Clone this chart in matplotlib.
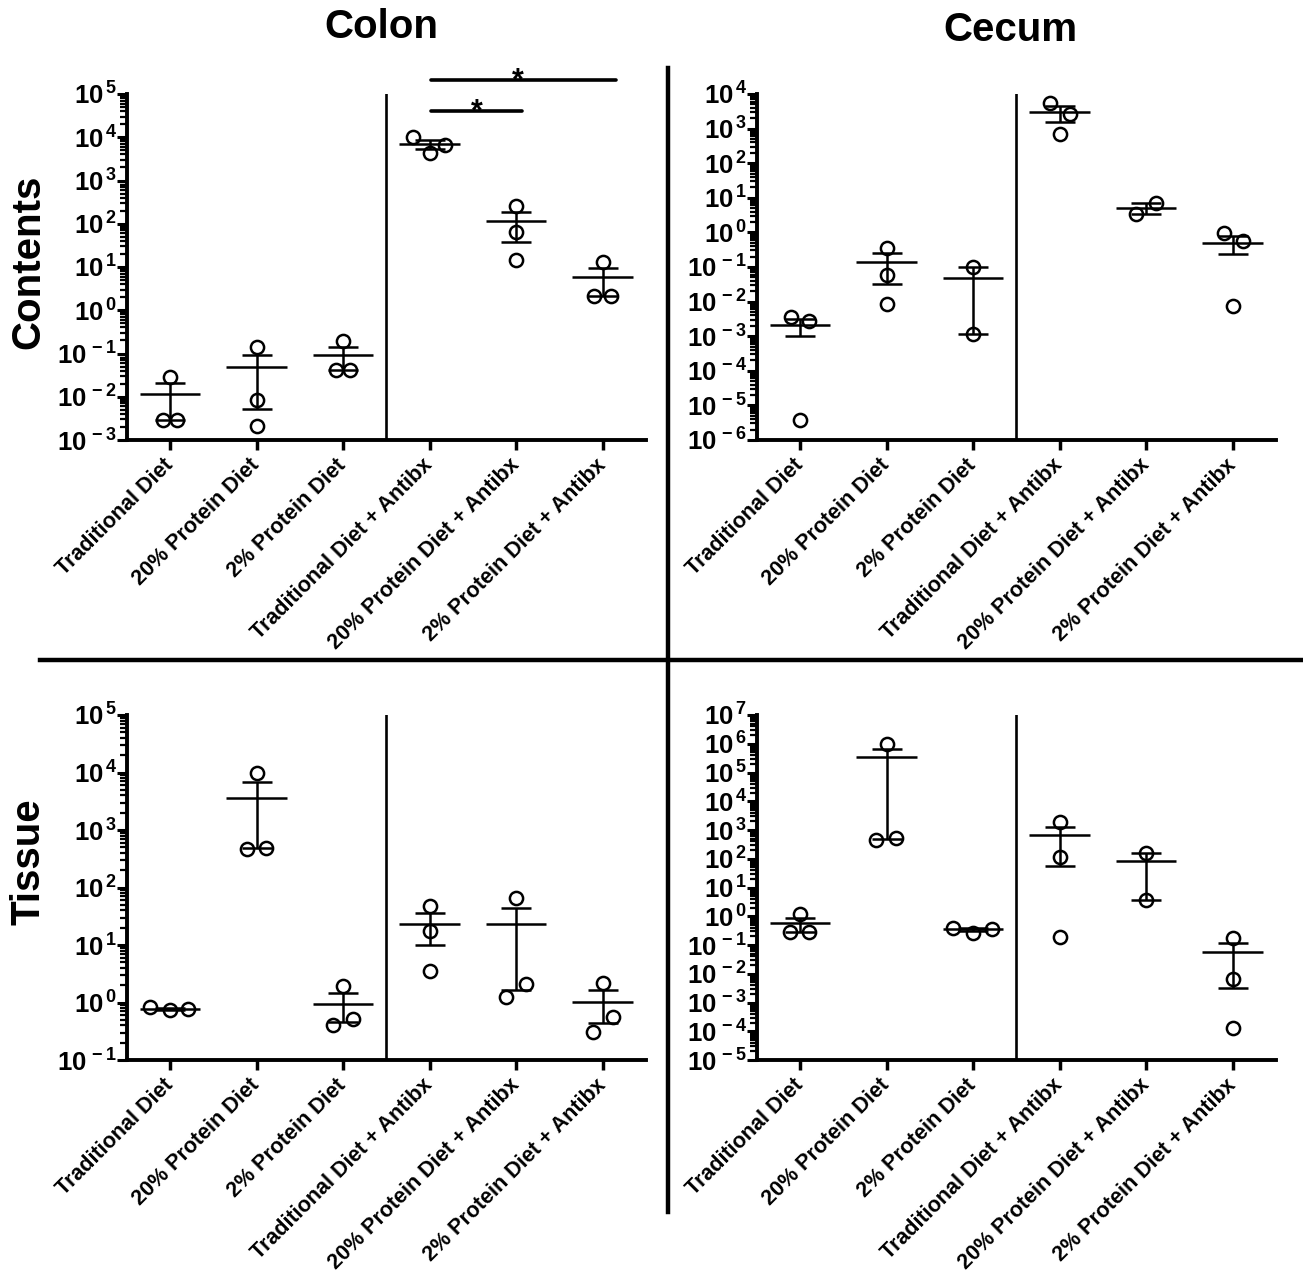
import numpy as np
import matplotlib
matplotlib.use('Agg')
import matplotlib.pyplot as plt
from matplotlib.lines import Line2D
from matplotlib.ticker import FixedLocator, NullFormatter, FixedFormatter

plt.rcParams['font.family'] = ['Liberation Sans', 'DejaVu Sans']
plt.rcParams['font.weight'] = 'bold'
plt.rcParams['mathtext.fontset'] = 'custom'
plt.rcParams['mathtext.rm'] = 'Liberation Sans:bold'
plt.rcParams['mathtext.bf'] = 'Liberation Sans:bold'
plt.rcParams['mathtext.it'] = 'Liberation Sans:bold'
plt.rcParams['mathtext.default'] = 'bf'

# ---------------- data ----------------
groups = ["Traditional Diet", "20% Protein Diet", "2% Protein Diet",
          "Traditional Diet + Antibx", "20% Protein Diet + Antibx",
          "2% Protein Diet + Antibx"]

colon_contents = [[0.029, 0.0029, 0.0029], [0.139, 0.0084, 0.0021], [0.19, 0.042, 0.042],
                  [10000, 4256, 6610], [262, 65.6, 14.5], [13.3, 2.13, 2.13]]
cecum_contents = [[0.0035, 0.0028, 3.8e-6], [0.362, 0.0587, 0.0085], [0.098, 0.00116],
                  [5610, 2641, 683], [3.40, 6.92], [0.94, 0.577, 0.0075]]
colon_tissue = [[0.82, 0.74, 0.76], [9930, 461, 493], [1.94, 0.406, 0.51],
                [47.6, 17.7, 3.53], [66.5, 1.26, 2.07], [2.21, 0.568, 0.311]]
cecum_tissue = [[1.2, 0.276, 0.291], [1.0e6, 449, 541], [0.40, 0.27, 0.37],
                [1950, 112, 0.185], [163, 3.67], [0.171, 0.0064, 1.26e-4]]

# y-axis decade ranges (exponents)
colon_contents_range = (-3, 5)
cecum_contents_range = (-6, 4)
colon_tissue_range = (-1, 5)
cecum_tissue_range = (-5, 7)

# ---------------- layout (horizontal scatter spread of points) ----------------
jit_cc = [[0, -0.08, 0.08], [0, 0, 0], [0, -0.08, 0.08], [-0.19, 0, 0.18], [0, 0, 0], [0, -0.1, 0.1]]
jit_kc = [[-0.1, 0.1, 0], [0, 0, 0], [0, 0], [-0.11, 0.12, 0], [-0.12, 0.115], [-0.1, 0.115, 0]]
jit_ct = [[-0.23, 0, 0.21], [0, -0.115, 0.11], [0, -0.115, 0.115], [0, 0, 0], [0, -0.115, 0.115], [0, 0.115, -0.115]]
jit_kt = [[0, -0.12, 0.1], [0, -0.12, 0.11], [-0.23, 0, 0.22], [0, 0, 0], [0, 0], [0, 0, 0]]

W, H = 1303, 1272
fig = plt.figure(figsize=(W / 100, H / 100), dpi=100)


def fx(px):
    return px / W


def fy(py):
    return 1 - py / H


def panel(left_px, top_px, right_px, bottom_px, data, jit, rng):
    ax = fig.add_axes([fx(left_px), fy(bottom_px), fx(right_px - left_px), (bottom_px - top_px) / H])
    ax.set_yscale('log')
    lo, hi = rng
    ax.set_ylim(10.0 ** lo, 10.0 ** hi)
    ax.set_xlim(-0.5, len(groups) - 0.5)
    for i, vals in enumerate(data):
        v = np.array(vals, dtype=float)
        m = v.mean()
        sem = v.std(ddof=1) / np.sqrt(len(v))
        ax.hlines(m, i - 0.35, i + 0.35, color='k', lw=1.8, zorder=2)
        ax.errorbar(i, m, yerr=sem, fmt='none', ecolor='k', elinewidth=1.8,
                    capsize=11, capthick=1.8, zorder=2)
        ax.plot(i + np.array(jit[i]), v, 'o', mfc='none', mec='k', ms=9.5, mew=1.8,
                zorder=3, clip_on=False)
    ax.axvline(2.5, color='k', lw=1.9)
    for s in ['top', 'right']:
        ax.spines[s].set_visible(False)
    for s in ['left', 'bottom']:
        ax.spines[s].set_linewidth(2.8)
    ax.yaxis.set_major_locator(FixedLocator([10.0 ** e for e in range(lo, hi + 1)]))
    ax.yaxis.set_major_formatter(FixedFormatter([r'$10^{\,%d}$' % e for e in range(lo, hi + 1)]))
    minor = [k * 10.0 ** e for e in range(lo, hi) for k in range(2, 10)]
    ax.yaxis.set_minor_locator(FixedLocator(minor))
    ax.yaxis.set_minor_formatter(NullFormatter())
    ax.tick_params(axis='y', which='major', length=7, width=2.2, labelsize=18.5, pad=0)
    ax.tick_params(axis='y', which='minor', length=5, width=1.6)
    ax.set_xticks(range(len(groups)))
    ax.set_xticklabels(groups, rotation=45, ha='right', va='center',
                       rotation_mode='anchor', fontsize=15.5, fontweight='bold')
    ax.tick_params(axis='x', which='major', length=7, width=2.5, pad=9)
    ax.tick_params(axis='x', which='minor', length=0)
    return ax


ax_cc = panel(126.7, 94, 646, 440, colon_contents, jit_cc, colon_contents_range)
ax_kc = panel(756.7, 94, 1276, 440, cecum_contents, jit_kc, cecum_contents_range)
ax_ct = panel(126.7, 715, 646, 1060, colon_tissue, jit_ct, colon_tissue_range)
ax_kt = panel(756.7, 715, 1276, 1060, cecum_tissue, jit_kt, cecum_tissue_range)

# significance bars (colon contents)
ax_cc.plot([3.02, 5.15], [10 ** 5.324] * 2, color='k', lw=2.6, clip_on=False, solid_capstyle='round')
ax_cc.plot([3.02, 4.07], [10 ** 4.607] * 2, color='k', lw=2.6, clip_on=False, solid_capstyle='round')
ax_cc.text(4.02, 10 ** 5.12, '*', ha='center', va='baseline', fontsize=22, clip_on=False)
ax_cc.text(3.54, 10 ** 4.40, '*', ha='center', va='baseline', fontsize=22, clip_on=False)

# figure dividers
fig.add_artist(Line2D([fx(40), fx(1303)], [fy(660), fy(660)], color='k', lw=3.2))
fig.add_artist(Line2D([fx(668), fx(668)], [fy(68), fy(1212)], color='k', lw=3.2))

# titles
fig.text(fx(381), fy(27), 'Colon', ha='center', va='center', fontsize=29, fontweight='bold')
fig.text(fx(1010), fy(30), 'Cecum', ha='center', va='center', fontsize=29, fontweight='bold')
fig.text(fx(28), fy(262), 'Contents', ha='center', va='center', rotation=90, fontsize=29, fontweight='bold')
fig.text(fx(28), fy(862), 'Tissue', ha='center', va='center', rotation=90, fontsize=29, fontweight='bold')

fig.savefig('out.png', dpi=100)
